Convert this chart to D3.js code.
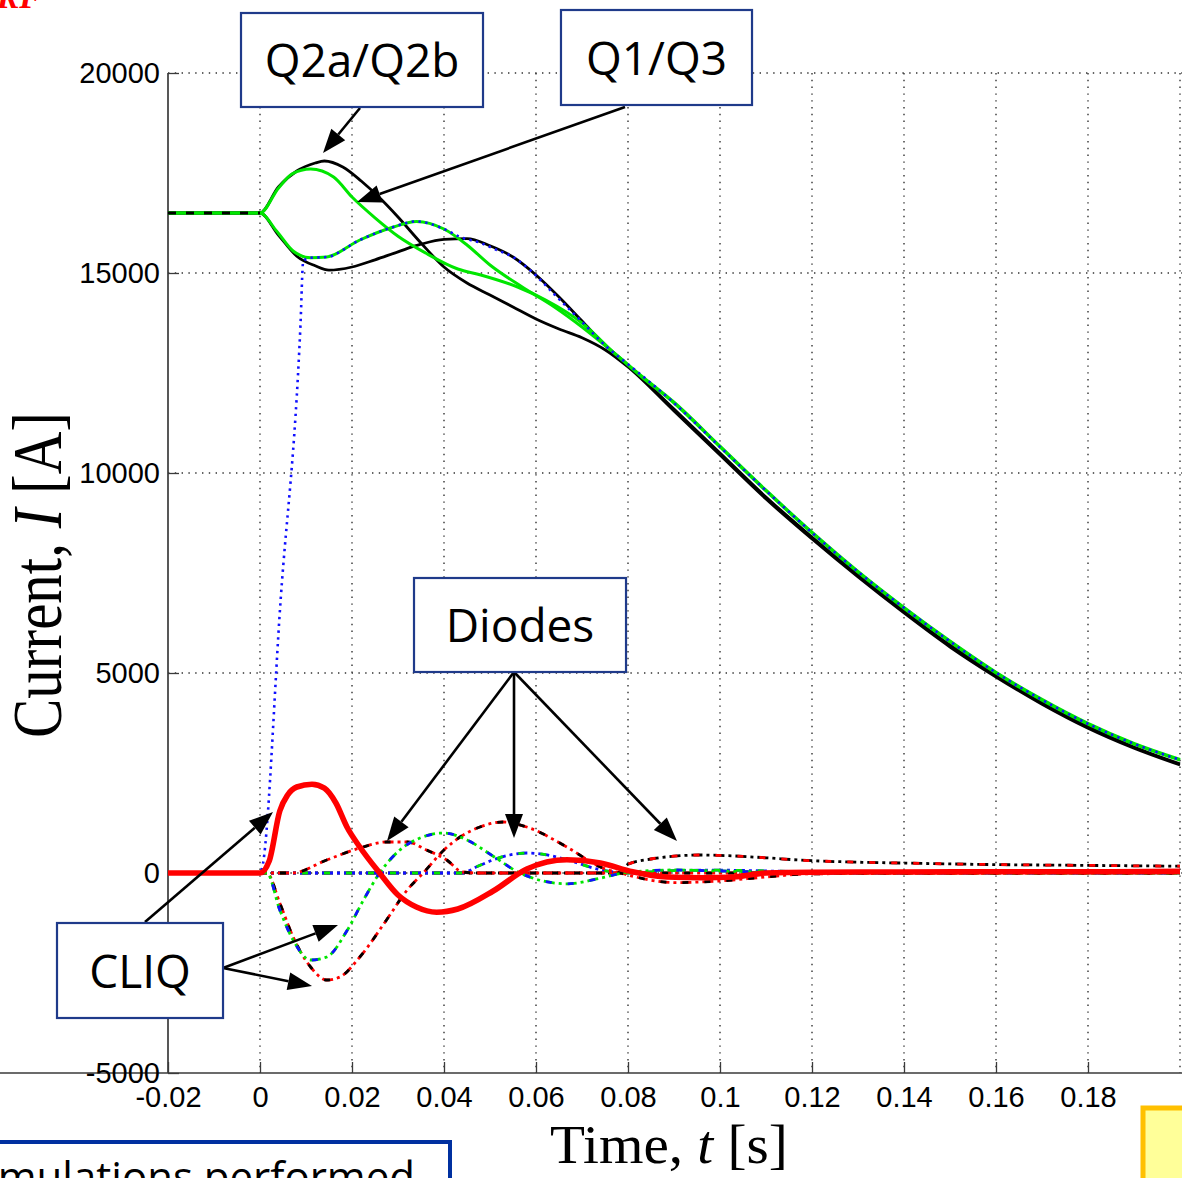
<!DOCTYPE html>
<html><head><meta charset="utf-8">
<script src="https://cdn.jsdelivr.net/npm/d3@7"></script>
<style>
html,body{margin:0;padding:0;background:#fff;overflow:hidden;}
svg{display:block;}
</style></head>
<body><svg id="chart" width="1182" height="1178"></svg>
<script>
// ---------------- DATA ----------------
const xTicks = [-0.02, 0, 0.02, 0.04, 0.06, 0.08, 0.1, 0.12, 0.14, 0.16, 0.18];
const xTickLabels = ["-0.02", "0", "0.02", "0.04", "0.06", "0.08", "0.1", "0.12", "0.14", "0.16", "0.18"];
const yTicks = [-5000, 0, 5000, 10000, 15000, 20000];
const yTickLabels = ["-5000", "0", "5000", "10000", "15000", "20000"];

// Q2a (black, upper)
const tQ2a = [-0.02, 0, 0.004, 0.008, 0.012, 0.014, 0.018, 0.022, 0.026, 0.03, 0.035, 0.04, 0.045, 0.05, 0.055, 0.06, 0.065, 0.07, 0.075, 0.08, 0.09, 0.1, 0.11, 0.12, 0.13, 0.14, 0.15, 0.16, 0.17, 0.18, 0.19, 0.2];
const iQ2a = [16500, 16500, 17150, 17550, 17750, 17800, 17650, 17300, 16880, 16400, 15750, 15150, 14750, 14450, 14150, 13850, 13600, 13380, 13080, 12650, 11550, 10450, 9350, 8350, 7400, 6500, 5650, 4900, 4220, 3620, 3120, 2700];
// Q2b (black, lower)
const tQ2b = [-0.02, 0, 0.004, 0.008, 0.012, 0.015, 0.02, 0.025, 0.03, 0.035, 0.04, 0.045, 0.05, 0.055, 0.06, 0.065, 0.07, 0.075, 0.08, 0.09, 0.1, 0.11, 0.12, 0.13, 0.14, 0.15, 0.16, 0.17, 0.18, 0.19, 0.2];
const iQ2b = [16500, 16500, 15950, 15420, 15180, 15070, 15150, 15330, 15530, 15720, 15840, 15860, 15680, 15400, 14950, 14400, 13800, 13200, 12700, 11600, 10500, 9400, 8400, 7450, 6550, 5700, 4950, 4260, 3660, 3150, 2730];
// Q1 (green, upper)
const tQ1 = [-0.02, 0, 0.004, 0.007, 0.011, 0.016, 0.02, 0.025, 0.03, 0.036, 0.043, 0.048, 0.056, 0.062, 0.07, 0.077, 0.083, 0.09, 0.1, 0.11, 0.12, 0.13, 0.14, 0.15, 0.16, 0.17, 0.18, 0.19, 0.2];
const iQ1 = [16500, 16500, 17120, 17480, 17600, 17400, 16900, 16380, 15920, 15500, 15100, 14950, 14650, 14330, 13750, 13000, 12400, 11750, 10650, 9550, 8500, 7520, 6620, 5780, 5000, 4320, 3720, 3220, 2820];
// Q3 (green, lower)
const tQ3 = [-0.02, 0, 0.0036, 0.0072, 0.011, 0.0145, 0.0217, 0.029, 0.034, 0.04, 0.045, 0.05, 0.057, 0.064, 0.07, 0.077, 0.083, 0.09, 0.1, 0.11, 0.12, 0.13, 0.14, 0.15, 0.16, 0.17, 0.18, 0.19, 0.2];
const iQ3 = [16500, 16500, 16050, 15550, 15380, 15400, 15825, 16150, 16290, 16100, 15700, 15200, 14650, 14150, 13650, 13000, 12420, 11770, 10670, 9570, 8520, 7540, 6640, 5800, 5020, 4340, 3740, 3240, 2840];
// blue dotted
const tBlue = [-0.02, 0, 0.0004, 0.0045, 0.0088, 0.0094, 0.011, 0.0145, 0.0217, 0.029, 0.034, 0.04, 0.0435, 0.048, 0.0515, 0.055, 0.0594, 0.0637, 0.0696, 0.0754, 0.08, 0.09, 0.1, 0.11, 0.12, 0.13, 0.14, 0.15, 0.16, 0.17, 0.18, 0.19, 0.2];
const iBlue = [0, 0, 100, 6850, 13700, 15300, 15380, 15400, 15825, 16150, 16290, 16100, 15900, 15750, 15575, 15400, 15000, 14500, 13825, 13150, 12720, 11750, 10650, 9560, 8510, 7530, 6630, 5790, 5010, 4330, 3730, 3230, 2830];

// CLIQ current (red thick)
const tCliq = [-0.02, 0, 0.002, 0.0043, 0.006, 0.008, 0.0113, 0.014, 0.0165, 0.0189, 0.0217, 0.026, 0.03, 0.034, 0.0384, 0.043, 0.0507, 0.058, 0.0667, 0.074, 0.081, 0.0885, 0.096, 0.103, 0.11, 0.12, 0.14, 0.16, 0.18, 0.2];
const iCliq = [0, 0, 300, 1550, 1950, 2150, 2220, 2120, 1750, 1150, 650, 0, -550, -850, -980, -900, -450, 100, 330, 250, 30, -100, -120, -100, 0, 20, 25, 30, 30, 40];
// CLIQ-linked branch A (green / blue dash-dot)
const tBranchA = [-0.02, 0, 0.0015, 0.0043, 0.0072, 0.011, 0.0145, 0.019, 0.0225, 0.026, 0.0304, 0.0348, 0.04, 0.045, 0.0507, 0.0565, 0.0667, 0.074, 0.08, 0.09, 0.1, 0.12, 0.2];
const iBranchA = [0, 0, 0, -925, -1675, -2175, -2100, -1425, -675, 0, 575, 875, 1000, 825, 420, 0, -270, -130, 20, 75, 50, 0, 0];
// CLIQ-linked branch B (red / black dash-dot)
const tBranchB = [-0.02, 0, 0.0015, 0.0043, 0.0072, 0.011, 0.0145, 0.0174, 0.0217, 0.0275, 0.032, 0.0355, 0.04, 0.0435, 0.0478, 0.0529, 0.058, 0.0667, 0.074, 0.08, 0.085, 0.09, 0.1, 0.11, 0.12, 0.2];
const iBranchB = [0, 0, 0, -750, -1600, -2350, -2675, -2600, -2100, -1175, -425, 0, 575, 900, 1150, 1275, 1150, 650, 150, -50, -180, -240, -200, -100, -20, 0];
// Diode 1 (red / black dash-dot)
const tDiode1 = [-0.02, 0, 0.007, 0.0145, 0.0217, 0.0275, 0.032, 0.0362, 0.0406, 0.044, 0.047, 0.2];
const iDiode1 = [0, 0, 0, 325, 625, 775, 775, 575, 325, 25, 0, 0];
// Diode 2 (blue / green dash-dot)
const tDiode2 = [-0.02, 0.044, 0.047, 0.0507, 0.0543, 0.058, 0.062, 0.0667, 0.074, 0.08, 0.09, 0.1, 0.12, 0.2];
const iDiode2 = [0, 0, 150, 330, 450, 500, 460, 330, 80, 0, 60, 70, 30, 0];
// Diode 3 (black / red dash-dot)
const tDiode3 = [-0.02, 0.078, 0.08, 0.085, 0.09, 0.0957, 0.1, 0.11, 0.117, 0.13, 0.139, 0.16, 0.18, 0.2];
const iDiode3 = [0, 0, 220, 350, 420, 450, 440, 380, 325, 270, 250, 210, 190, 170];

// annotation texts
const boxLabels = ["Q2a/Q2b", "Q1/Q3", "Diodes", "CLIQ"];
const xTitle = ["Time, ", "t", " [s]"];
const yTitle = ["Current, ", "I", " [A]"];

// ---------------- LAYOUT ----------------
const svg = d3.select("#chart");
const x = d3.scaleLinear().domain([-0.02, 0.2]).range([168, 1180]);
const y = d3.scaleLinear().domain([-5000, 20000]).range([1073, 73]);
const zip = (ts, vs) => ts.map((t, i) => [t, vs[i]]);
const line = d3.line().x(d => x(d[0])).y(d => y(d[1])).curve(d3.curveMonotoneX);

// grid
const gGrid = svg.append("g").attr("stroke", "#333").attr("stroke-width", 1.4).attr("stroke-dasharray", "1.4,5.4");
xTicks.filter(t => t > -0.02).concat([0.2]).forEach(t => {
  gGrid.append("line").attr("x1", x(t)).attr("x2", x(t)).attr("y1", y(20000)).attr("y2", y(-5000));
});
yTicks.filter(v => v > -5000).forEach(v => {
  gGrid.append("line").attr("x1", x(-0.02)).attr("x2", x(0.2) + 2).attr("y1", y(v)).attr("y2", y(v));
});

// axes
const xAxis = d3.axisBottom(x).tickValues(xTicks).tickFormat((d, i) => xTickLabels[i])
  .tickSizeInner(-11).tickSizeOuter(0).tickPadding(13);
const yAxis = d3.axisLeft(y).tickValues(yTicks).tickFormat((d, i) => yTickLabels[i])
  .tickSizeInner(-11).tickSizeOuter(0).tickPadding(8);
const gx = svg.append("g").attr("transform", `translate(0,${y(-5000)})`).call(xAxis);
const gy = svg.append("g").attr("transform", `translate(${x(-0.02)},0)`).call(yAxis);
[gx, gy].forEach(g => {
  g.selectAll("path.domain").attr("stroke", "#3a3a3a").attr("stroke-width", 1.7);
  g.selectAll(".tick line").attr("stroke", "#3a3a3a").attr("stroke-width", 1.3);
  g.selectAll(".tick text").attr("font-family", "'Liberation Sans', Arial, sans-serif")
    .attr("font-size", 29).attr("fill", "#000");
});
gx.select("path.domain").attr("d", `M0,0H${1182}`);
gy.select("path.domain").attr("d", `M0,${y(20000)}V${y(-5000)}`);

// series
function draw(ts, vs, color, width, dash, offset) {
  const p = svg.append("path").datum(zip(ts, vs)).attr("d", line)
    .attr("fill", "none").attr("stroke", color).attr("stroke-width", width)
    .attr("stroke-linejoin", "round");
  if (dash) p.attr("stroke-dasharray", dash);
  if (offset) p.attr("stroke-dashoffset", offset);
  return p;
}
function dashDot(ts, vs, c1, c2) {
  draw(ts, vs, c1, 2.8, "11,4,3,4");
  draw(ts, vs, c2, 2.8, "6,16", -2);
}

// main magnet currents
draw(tQ2a, iQ2a, "#000", 2.8);
draw(tQ2b, iQ2b, "#000", 2.8);
draw(tQ1, iQ1, "#00e600", 3);
draw(tQ3, iQ3, "#00e600", 3);
draw(tBlue, iBlue, "#1010ff", 2.6, "2.4,4.4");
// flat part shows the black dashes over green
draw(tQ2a.slice(0, 2), iQ2a.slice(0, 2), "#000", 2.8, "8,10");

// diodes and CLIQ branches
dashDot(tDiode3, iDiode3, "#000", "#ff0000");
dashDot(tDiode2, iDiode2, "#1010ff", "#00e600");
dashDot(tDiode1, iDiode1, "#ff0000", "#000");
dashDot(tBranchB, iBranchB, "#ff0000", "#000");
dashDot(tBranchA, iBranchA, "#00e600", "#1010ff");
draw(tCliq, iCliq, "#ff0000", 5.6);

// ---------------- ANNOTATIONS ----------------
const boxes = [
  {t0: -0.00413, t1: 0.04848, v0: 21500, v1: 19150},
  {t0: 0.06543, t1: 0.10696, v0: 21575, v1: 19200},
  {t0: 0.03348, t1: 0.07957, v0: 7375, v1: 5025},
  {t0: -0.04413, t1: -0.00804, v0: -1250, v1: -3625}
];
const arrows = [
  [0.02174, 19125, 0.0137, 18000],
  [0.07935, 19150, 0.02109, 16775],
  [0.05522, 5025, 0.02761, 800],
  [0.05522, 5025, 0.05522, 875],
  [0.05522, 5025, 0.09065, 800],
  [-0.025, -1225, 0.00283, 1525],
  [-0.00804, -2375, 0.01696, -1300],
  [-0.00804, -2375, 0.0113, -2825]
];
const gA = svg.append("g");
arrows.forEach(a => {
  const x1 = x(a[0]), y1 = y(a[1]), x2 = x(a[2]), y2 = y(a[3]);
  const L = Math.hypot(x2 - x1, y2 - y1), ux = (x2 - x1) / L, uy = (y2 - y1) / L;
  const hl = 24, hw = 9;
  const bx = x2 - ux * hl, by = y2 - uy * hl;
  gA.append("line").attr("x1", x1).attr("y1", y1).attr("x2", bx).attr("y2", by)
    .attr("stroke", "#000").attr("stroke-width", 2.6);
  gA.append("polygon").attr("points",
    `${x2},${y2} ${bx - uy * hw},${by + ux * hw} ${bx + uy * hw},${by - ux * hw}`).attr("fill", "#000");
});
boxes.forEach((b, i) => {
  const x0 = x(b.t0), x1 = x(b.t1), y0 = y(b.v0), y1 = y(b.v1);
  gA.append("rect").attr("x", x0).attr("y", y0).attr("width", x1 - x0).attr("height", y1 - y0)
    .attr("fill", "#fff").attr("stroke", "#1f3a8a").attr("stroke-width", 2.2);
  gA.append("text").attr("x", (x0 + x1) / 2).attr("y", (y0 + y1) / 2 + 17)
    .attr("text-anchor", "middle").attr("font-family", "'Open Sans', sans-serif")
    .attr("font-size", 46).attr("fill", "#000").text(boxLabels[i]);
});

// axis titles
const tx = svg.append("text").attr("transform", "translate(669,1163) scale(1.04,1)").attr("text-anchor", "middle")
  .attr("font-family", "'Liberation Serif', 'Times New Roman', serif").attr("font-size", 55).attr("fill", "#000");
tx.append("tspan").text(xTitle[0]);
tx.append("tspan").attr("font-style", "italic").text(xTitle[1]);
tx.append("tspan").text(xTitle[2]);
const ty = svg.append("text").attr("transform", "translate(61,575) rotate(-90) scale(1,1.18)").attr("text-anchor", "middle")
  .attr("font-family", "'Liberation Serif', 'Times New Roman', serif").attr("font-size", 59).attr("fill", "#000");
ty.append("tspan").text(yTitle[0]);
ty.append("tspan").attr("font-style", "italic").text(yTitle[1]);
ty.append("tspan").text(yTitle[2]);

// slide decorations cut off by the frame
svg.append("text").attr("x", 42).attr("y", 8).attr("text-anchor", "end")
  .attr("font-family", "'Liberation Serif', serif").attr("font-weight", "bold").attr("font-style", "italic")
  .attr("font-size", 34).attr("fill", "#ff0000").text("RF");
svg.append("rect").attr("x", -10).attr("y", 1142).attr("width", 460).attr("height", 80)
  .attr("fill", "#fff").attr("stroke", "#0030a0").attr("stroke-width", 4);
svg.append("text").attr("x", 415).attr("y", 1192).attr("text-anchor", "end")
  .attr("font-family", "'Open Sans', sans-serif").attr("font-size", 42).attr("fill", "#000")
  .text("Simulations performed");
svg.append("rect").attr("x", 1143).attr("y", 1108).attr("width", 80).attr("height", 100)
  .attr("fill", "#ffff99").attr("stroke", "#ffc000").attr("stroke-width", 5);
</script>
</body></html>
